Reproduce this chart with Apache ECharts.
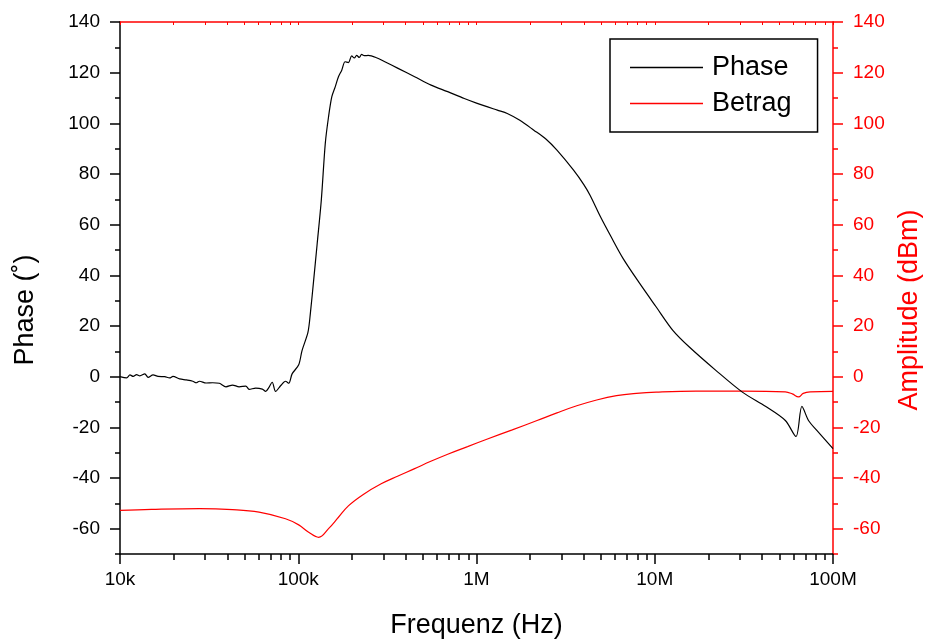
<!DOCTYPE html>
<html>
<head>
<meta charset="utf-8">
<script src="https://cdn.jsdelivr.net/npm/echarts@6/dist/echarts.min.js"></script>
<style>html,body{margin:0;padding:0;background:#fff}#c{width:931px;height:644px}</style>
</head>
<body>
<div id="c"></div>
<script>
// Phase (black, left axis) — frequency in Hz, phase in degrees
var phaseFreq = [10000,10900,11370,11860,12390,12920,13780,14380,15330,16350,17810,18990,19820,21600,23530,25610,26750,27910,30410,33100,36060,39300,42780,46610,50800,53000,57740,62850,65660,68500,71450,74640,79570,84860,88530,92360,100600,105000,113400,116900,122000,127500,134700,141800,147900,154300,161200,168100,175400,183200,191100,199400,206400,212600,220100,226700,234700,247100,274800,306000,363100,449800,556500,689400,854000,1000000,1309000,1488000,1750000,2097000,2450000,2827000,3503000,4000000,4335000,4960000,5690000,6650000,8231000,10195000,12630000,15630000,22010000,31000000,42000000,54030000,61970000,66920000,72860000,81150000,100000000];
var phaseVal = [0,-0.5,0.7,0.1,0.8,0.3,1.1,-0.3,0.7,0.1,0,-0.5,0.1,-0.9,-1.3,-1.8,-2.4,-1.8,-2.5,-2.4,-2.6,-4.0,-3.3,-4.0,-3.7,-5.0,-4.5,-4.9,-5.8,-4.2,-2.2,-5.8,-3.6,-1.8,-2.6,1.1,4.7,10.3,17.6,24.9,38,52,69.7,92.1,102.6,110.5,114.4,118.4,121,124.3,124.0,126.6,125.8,126.8,126.0,127.2,126.7,126.8,125.9,124.3,121.7,118.4,115.1,112.5,109.8,108,105.2,103.9,101.2,97.3,93.8,89.4,81.5,75.8,71.6,63.1,55.2,46.6,36.8,27.5,18.3,11.7,2.5,-6.1,-11.8,-17.3,-23.6,-11.7,-17.3,-21.2,-28.4];

// Betrag (red, right axis) — frequency in Hz, amplitude in dBm
var betragFreq = [10000,15000,27910,42780,60260,84860,100600,114400,130100,147900,168100,191100,231700,291900,363100,449800,554300,689400,891100,1152000,1587000,2187000,2827000,3653000,4722000,6102000,7888000,10195000,17030000,31000000,54030000,59100000,64080000,68070000,74460000,100000000];
var betragVal = [-52.8,-52.4,-52.1,-52.5,-53.5,-56.1,-58.5,-61.4,-63.4,-60.0,-55.5,-51.0,-46.5,-42.3,-39.2,-36.3,-33.4,-30.6,-27.6,-24.6,-21.0,-17.3,-14.3,-11.5,-9.2,-7.5,-6.6,-6.1,-5.7,-5.7,-6.0,-6.8,-8.0,-6.6,-6.0,-5.8];

// Axis ticks and labels
var xMajorTicks = [1e4,1e5,1e6,1e7,1e8];
var xMajorLabels = ['10k','100k','1M','10M','100M'];
var xMinorTicks = [2e4,3e4,4e4,5e4,6e4,7e4,8e4,9e4,2e5,3e5,4e5,5e5,6e5,7e5,8e5,9e5,2e6,3e6,4e6,5e6,6e6,7e6,8e6,9e6,2e7,3e7,4e7,5e7,6e7,7e7,8e7,9e7];
var yMajorTicks = [-60,-40,-20,0,20,40,60,80,100,120,140];
var yMinorTicks = [-70,-50,-30,-10,10,30,50,70,90,110,130];

var FONT = 'Liberation Sans, Arial, sans-serif';
var RED = '#ff0000';

function zip(a, b) { return a.map(function (v, i) { return [v, b[i]]; }); }

var chart = echarts.init(document.getElementById('c'), null, {renderer: 'canvas'});

function yAx(pos, color, ticks, major, name) {
  var o = {
    type: 'value', position: pos, min: -70, max: 140,
    splitLine: {show: false},
    axisLine: {show: major, onZero: false, lineStyle: {color: color, width: 1.5}},
    axisTick: {show: true, inside: false, length: major ? 10 : 5, customValues: ticks, lineStyle: {color: color, width: 1.5}},
    axisLabel: {show: major, customValues: ticks, color: color, fontSize: 19, fontFamily: FONT, margin: 20}
  };
  if (name) {
    o.name = name;
    o.nameLocation = 'middle';
    o.nameRotate = 90;
    o.nameGap = pos === 'left' ? 81 : 63;
    o.nameTextStyle = {color: color, fontSize: 27, fontFamily: FONT, padding: [0, 44, 0, 0]};
  }
  return o;
}

var option = {
  animation: false,
  backgroundColor: '#fff',
  grid: {left: 120, right: 93, top: 22, bottom: 90, containLabel: false},
  legend: {
    orient: 'vertical', left: 610, top: 39,
    padding: [15, 26, 15, 20], itemGap: 9, itemWidth: 73, itemHeight: 1.5,
    icon: 'rect',
    borderColor: '#000', borderWidth: 1.5, backgroundColor: '#fff',
    textStyle: {fontSize: 27, fontFamily: FONT, color: '#000', lineHeight: 26, padding: [0, 0, 0, 4]},
    data: ['Phase', 'Betrag']
  },
  xAxis: [
    {
      type: 'log', logBase: 10, min: 1e4, max: 1e8, position: 'bottom',
      splitLine: {show: false},
      axisLine: {onZero: false, lineStyle: {color: '#000', width: 1.5}},
      axisTick: {inside: false, length: 10, customValues: xMajorTicks, lineStyle: {color: '#000', width: 1.5}},
      axisLabel: {
        customValues: xMajorTicks, color: '#000', fontSize: 19, fontFamily: FONT, margin: 16,
        formatter: function (v) { var i = xMajorTicks.indexOf(v); return i >= 0 ? xMajorLabels[i] : ''; }
      },
      name: 'Frequenz (Hz)', nameLocation: 'middle', nameGap: 58,
      nameTextStyle: {color: '#000', fontSize: 27, fontFamily: FONT}
    },
    {
      type: 'log', logBase: 10, min: 1e4, max: 1e8, position: 'bottom',
      splitLine: {show: false}, axisLine: {show: false, onZero: false},
      axisTick: {inside: false, length: 6, customValues: xMinorTicks, lineStyle: {color: '#000', width: 1.5}},
      axisLabel: {show: false}
    },
    {
      type: 'log', logBase: 10, min: 1e4, max: 1e8, position: 'top',
      splitLine: {show: false},
      axisLine: {onZero: false, lineStyle: {color: RED, width: 1.5}},
      axisTick: {inside: true, length: 3, customValues: xMajorTicks.concat(xMinorTicks), lineStyle: {color: RED, width: 1}},
      axisLabel: {show: false}
    }
  ],
  yAxis: [
    yAx('left', '#000', yMajorTicks, true, 'Phase (\u02DA)'),
    yAx('left', '#000', yMinorTicks, false),
    yAx('right', RED, yMajorTicks, true, 'Amplitude (dBm)'),
    yAx('right', RED, yMinorTicks, false)
  ],
  series: [
    {
      name: 'Phase', type: 'line', xAxisIndex: 0, yAxisIndex: 0, symbol: 'none', showSymbol: false,
      smooth: 0.3,
      lineStyle: {color: '#000', width: 1.2}, itemStyle: {color: '#000'},
      data: zip(phaseFreq, phaseVal), z: 3
    },
    {
      name: 'Betrag', type: 'line', xAxisIndex: 0, yAxisIndex: 2, symbol: 'none', showSymbol: false,
      smooth: 0.4,
      lineStyle: {color: RED, width: 1.2}, itemStyle: {color: RED},
      data: zip(betragFreq, betragVal), z: 2
    }
  ]
};
chart.setOption(option);
</script>
</body>
</html>
